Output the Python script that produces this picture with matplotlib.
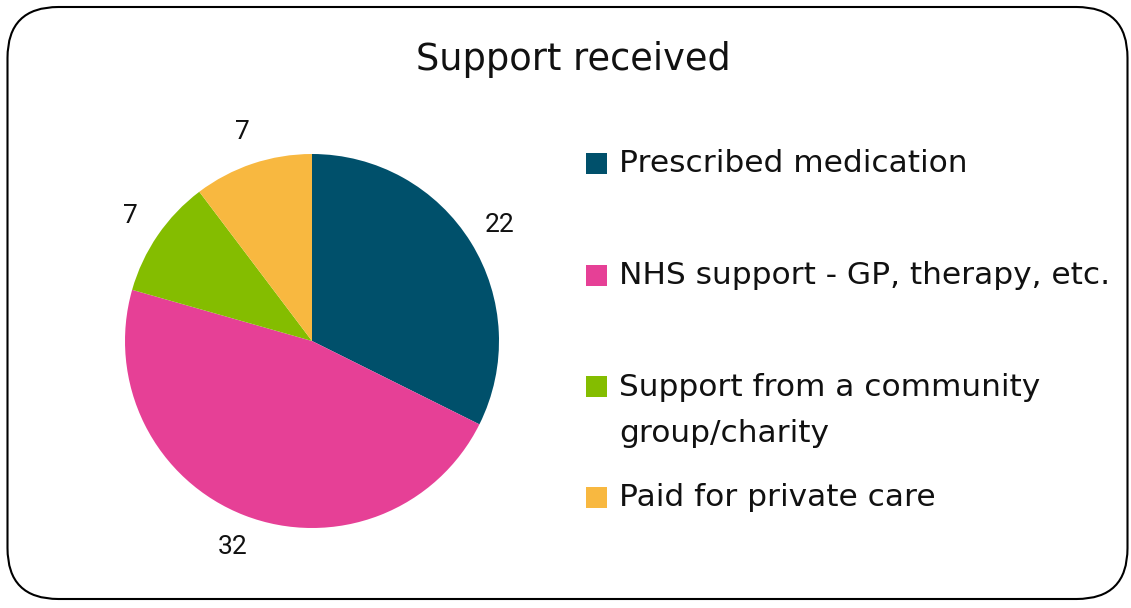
import matplotlib.pyplot as plt
from matplotlib.patches import FancyBboxPatch, Rectangle

# survey answers
labels = ['Prescribed medication', 'NHS support - GP, therapy, etc.',
          'Support from a community\ngroup/charity', 'Paid for private care']
counts = [22, 32, 7, 7]
colors = ['#00506B', '#E64096', '#84BD00', '#F8B840']

W, H = 1131, 608
fig = plt.figure(figsize=(W / 100, H / 100), dpi=100)

# rounded frame round the whole chart
frame = FancyBboxPatch((7.5 / W, 9 / H), 1120 / W, 592 / H,
                       boxstyle='round,pad=0,rounding_size=0.045',
                       transform=fig.transFigure, facecolor='none',
                       edgecolor='black', linewidth=1.5,
                       mutation_aspect=W / H, zorder=-1)
fig.patches.append(frame)

fig.text(573 / W, 1 - 60 / H, 'Support received', ha='center', va='center',
         fontsize=26.5, family='DejaVu Sans', color='#111111')

# pie
cx, cy, r = 312, 608 - 341, 187
ax = fig.add_axes([(cx - r) / W, (cy - r) / H, 2 * r / W, 2 * r / H])
wedges, texts = ax.pie(counts, colors=colors, labels=[str(c) for c in counts],
                       startangle=90, counterclock=False, labeldistance=1.18,
                       textprops=dict(fontsize=19, family='Roboto', color='#111111'))
for t in texts:
    t.set_ha('center')
    t.set_va('center')
ax.set_xlim(-1, 1)
ax.set_ylim(-1, 1)
ax.set_aspect('equal')

# legend on the right
baselines = [172, 284, 395, 506]
line_gap = 47
for lab, col, yb in zip(labels, colors, baselines):
    fig.patches.append(Rectangle((586 / W, 1 - (yb + 2) / H), 21 / W, 21 / H,
                                 transform=fig.transFigure, facecolor=col,
                                 edgecolor='none'))
    # baseline alignment uses the last line of a wrapped label
    y_last = yb + line_gap * lab.count('\n')
    fig.text(619 / W, 1 - y_last / H, lab, ha='left', va='baseline',
             fontsize=22.5, family='DejaVu Sans', color='#111111',
             linespacing=1.72)

fig.savefig('out.png', dpi=100)
